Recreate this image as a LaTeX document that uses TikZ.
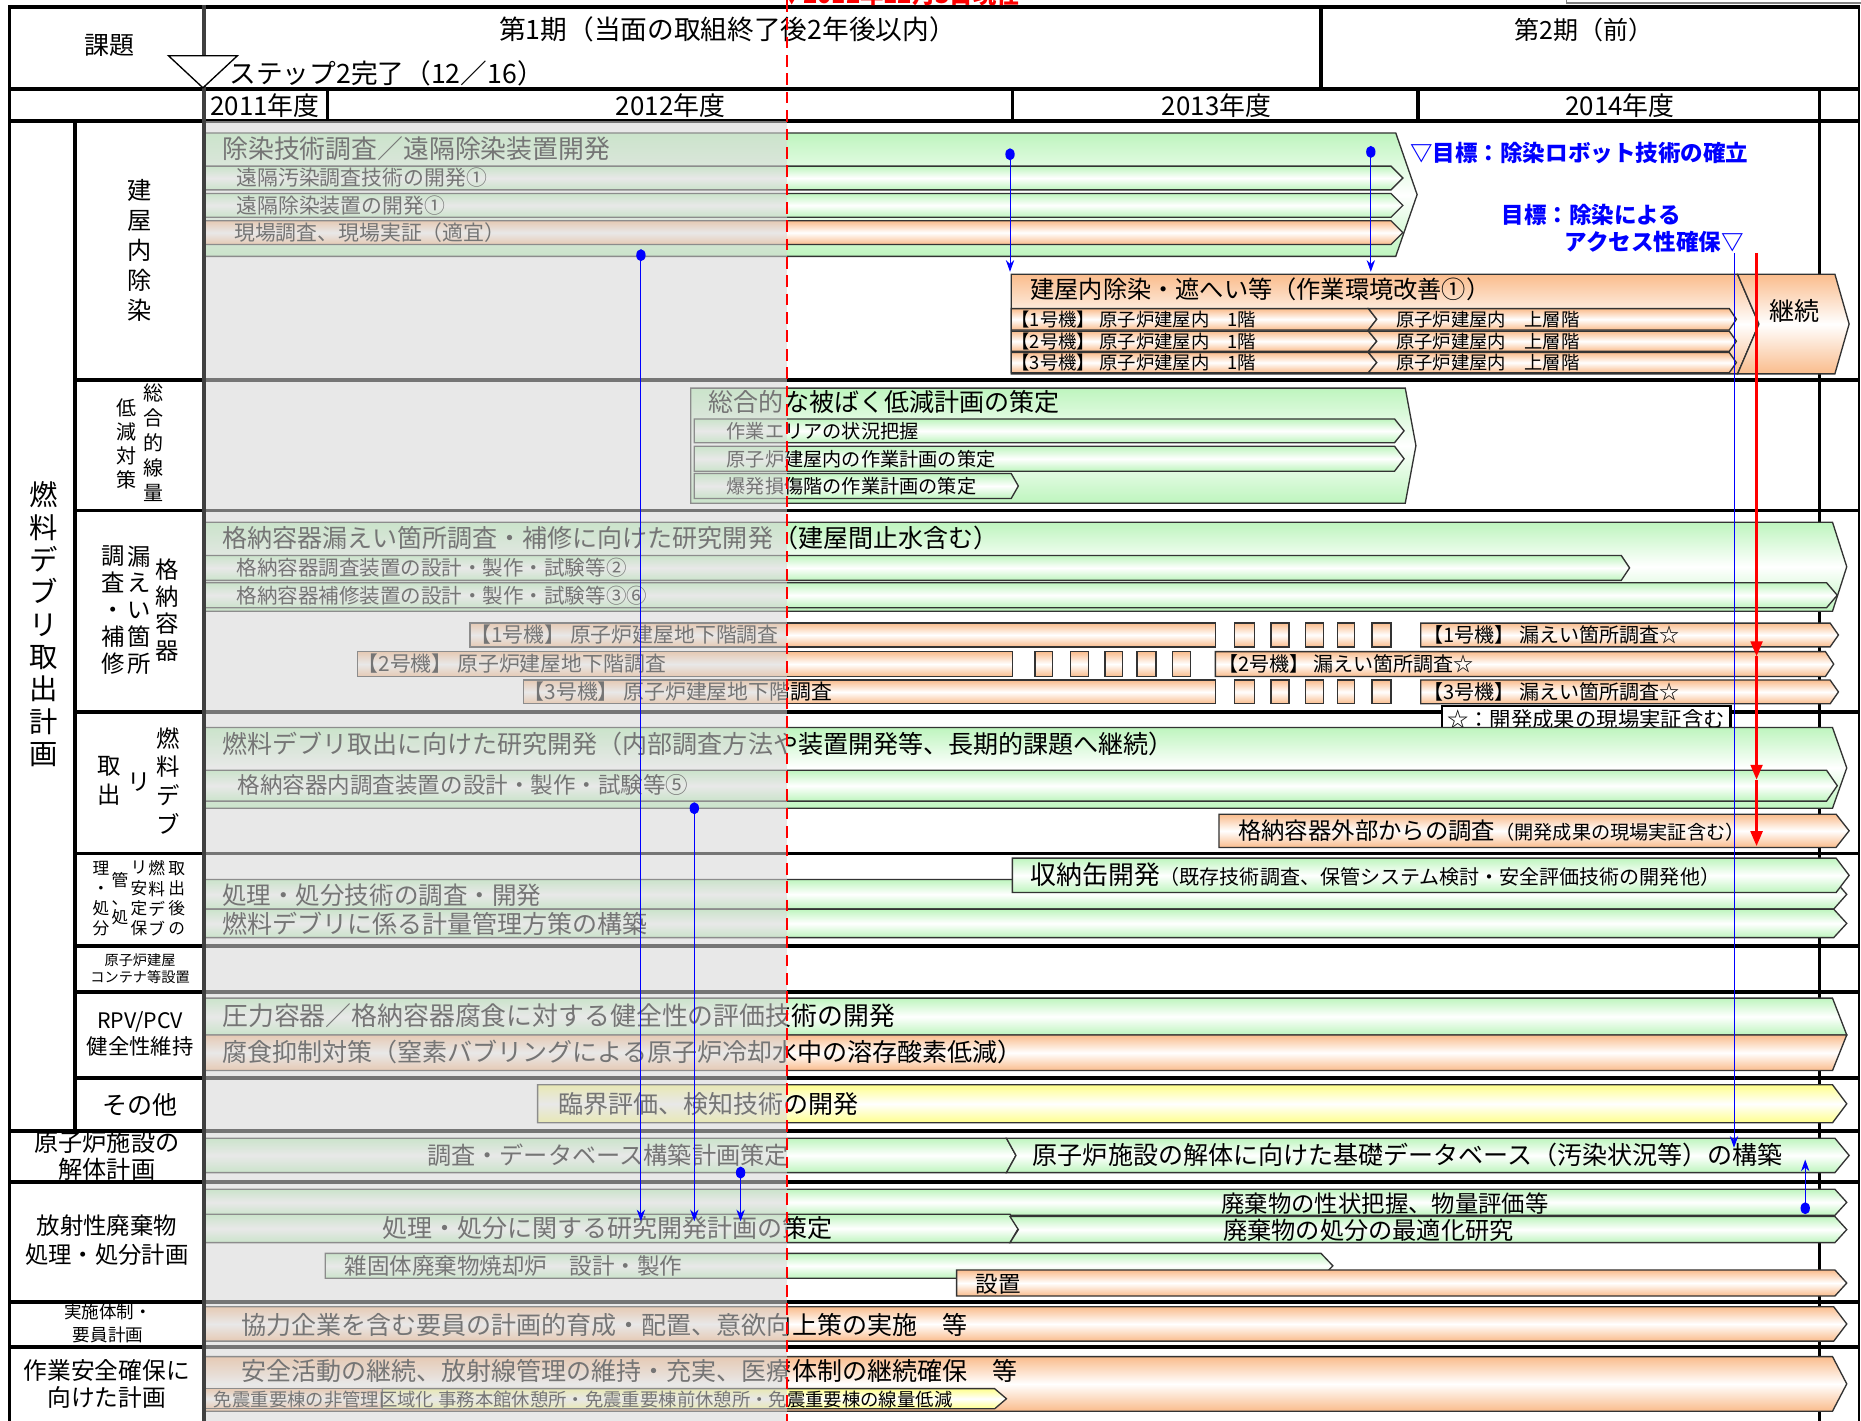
\documentclass[tikz,border=0pt]{standalone}
\usepackage{fontspec}
\setmainfont{Noto Sans CJK JP}
\usetikzlibrary{arrows.meta}

\definecolor{lgreen}{RGB}{190,245,190}
\definecolor{lorange}{RGB}{250,188,140}
\definecolor{lyellow}{RGB}{255,255,140}
\definecolor{gshade}{RGB}{214,214,214}

\newcommand{\fs}[1]{\fontsize{#1}{#1}\selectfont}
% 矢印形のバー: style, x左, y上, x先端, y下, 先端の深さ
\newcommand{\barshape}[6]{%
  \path[#1] (#2,#3) -- ({#4-#6},#3) -- (#4,{(#3+#5)/2}) -- ({#4-#6},#5) -- (#2,#5) -- cycle;}
% 左側に切り込みのあるバー
\newcommand{\barnotch}[7]{%
  \path[#1] (#2,#3) -- ({#4-#6},#3) -- (#4,{(#3+#5)/2}) -- ({#4-#6},#5) -- (#2,#5) -- ({#2+#7},{(#3+#5)/2}) -- cycle;}

\begin{document}
\begin{tikzpicture}[x=0.025cm, y=-0.025cm]
    % --- スタイル定義 ---
    \tikzstyle{thk}=[line width=2.2pt, line cap=rect]
    \tikzstyle{grn}=[draw=black!80, line width=0.8pt, top color=lgreen, bottom color=lgreen, middle color=white]
    \tikzstyle{org}=[draw=black!80, line width=0.8pt, top color=lorange, bottom color=lorange, middle color=white]
    \tikzstyle{yel}=[draw=black!80, line width=0.8pt, top color=lyellow, bottom color=lyellow, middle color=white]
    \tikzstyle{lbl}=[anchor=west, inner sep=0pt]
    \tikzstyle{vlbl}=[align=center, inner sep=0pt]
    \tikzstyle{goal}=[anchor=west, inner sep=0pt, text=blue, font=\bfseries\fs{13.5}]
    \tikzstyle{link}=[->, >={Stealth[length=7pt, width=5pt]}, blue, line width=0.6pt]
    \tikzstyle{hold}=[->, >={Triangle[length=9pt, width=7pt]}, red, line width=1.8pt]

    \useasboundingbox (0,0) rectangle (1568,1197);
    \fill[white] (0,0) rectangle (1568,1197);

    % ====== 枠線 ======
    \draw[thk] (8,6) -- (1566,6);
    \draw[thk] (8,75) -- (1566,75);
    \draw[thk] (8,102) -- (1566,102);
    \foreach \yy in {320,430,600,719,797,836,908} \draw[thk] (63,\yy) -- (1566,\yy);
    \foreach \yy in {953,996,1097,1135} \draw[thk] (8,\yy) -- (1566,\yy);
    \draw[thk] (8,6) -- (8,1197);
    \draw[thk] (63,102) -- (63,953);
    \draw[thk] (1113,6) -- (1113,75);
    \draw[thk] (276,75) -- (276,102);
    \draw[thk] (853,75) -- (853,102);
    \draw[thk] (1195,75) -- (1195,102);
    \draw[thk] (1533,75) -- (1533,1197);
    \draw[line width=1.2pt] (1566,6) -- (1566,1197);
    \draw[gray, line width=0.8pt] (1320,-10) rectangle (1580,2.5);

    % ====== 建屋内除染 ======
    \barshape{grn}{172}{112}{1194}{216}{18}
    \barshape{grn}{172}{140}{1182}{160}{10}
    \barshape{grn}{172}{163}{1182}{183}{10}
    \barshape{org}{172}{186}{1182}{206}{10}
    \node[lbl, font=\fs{15.5}] (t11) at (187,125) {除染技術調査／遠隔除染装置開発};
    \node[lbl, font=\fs{12.5}] (t12) at (199,150) {遠隔汚染調査技術の開発①};
    \node[lbl, font=\fs{12.5}] (t13) at (199,173) {遠隔除染装置の開発①};
    \node[lbl, font=\fs{12.5}] (t14) at (197,196) {現場調査、現場実証（適宜）};

    \barshape{org}{852}{231}{1482}{315}{18}
    \barnotch{org}{1464}{231}{1558}{315}{12}{18}
    \node[lbl, font=\fs{14.5}] (t15) at (868,244) {建屋内除染・遮へい等（作業環境改善①）};
    \node[font=\fs{15}] (t16) at (1512,262) {継続};
    \barshape{org}{852}{260}{1160}{278}{7}
    \barnotch{org}{1153}{260}{1463}{278}{6}{7}
    \barshape{org}{852}{279}{1160}{296}{7}
    \barnotch{org}{1153}{279}{1463}{296}{6}{7}
    \barshape{org}{852}{297}{1160}{314}{7}
    \barnotch{org}{1153}{297}{1463}{314}{6}{7}
    \node[lbl, font=\fs{11}] (u1) at (852,269) {【1号機】 原子炉建屋内　1階};
    \node[lbl, font=\fs{11}] (u2) at (852,287.5) {【2号機】 原子炉建屋内　1階};
    \node[lbl, font=\fs{11}] (u3) at (852,305.5) {【3号機】 原子炉建屋内　1階};
    \node[lbl, font=\fs{11}] (v1) at (1176,269) {原子炉建屋内　上層階};
    \node[lbl, font=\fs{11}] (v2) at (1176,287.5) {原子炉建屋内　上層階};
    \node[lbl, font=\fs{11}] (v3) at (1176,305.5) {原子炉建屋内　上層階};

    % ====== 総合的線量低減対策 ======
    \barshape{grn}{582}{327}{1193}{424}{9}
    \barshape{grn}{585}{353}{1183}{373}{8}
    \barshape{grn}{585}{376}{1183}{397}{8}
    \barshape{grn}{585}{399}{858}{420}{6}
    \node[lbl, font=\fs{15}] (t21) at (597,339) {総合的な被ばく低減計画の策定};
    \node[lbl, font=\fs{11.5}] (t22) at (612,363) {作業エリアの状況把握};
    \node[lbl, font=\fs{11.5}] (t23) at (612,386.5) {原子炉建屋内の作業計画の策定};
    \node[lbl, font=\fs{11.5}] (t24) at (612,409.5) {爆発損傷階の作業計画の策定};

    % ====== 格納容器漏えい箇所調査・補修 ======
    \barshape{grn}{172}{440}{1556}{515}{12}
    \barshape{grn}{172}{468}{1373}{489}{7}
    \barshape{grn}{172}{491}{1548}{512}{9}
    \node[lbl, font=\fs{15}] (t31) at (187,453) {格納容器漏えい箇所調査・補修に向けた研究開発（建屋間止水含む）};
    \node[lbl, font=\fs{12.3}] (t32) at (199,478.5) {格納容器調査装置の設計・製作・試験等②};
    \node[lbl, font=\fs{12.3}] (t33) at (199,501.5) {格納容器補修装置の設計・製作・試験等③⑥};

    \path[org] (396,525) rectangle (1024,545);
    \path[org] (301,549) rectangle (853,570);
    \path[org] (441,573) rectangle (1024,593);
    \foreach \xa/\xb in {1040/1057,1071/1086,1100/1115,1127/1141,1156/1172} {
        \path[org] (\xa,525) rectangle (\xb,545);
        \path[org] (\xa,573) rectangle (\xb,593);
    }
    \foreach \xa/\xb in {872/887,902/917,931/946,958/974,988/1003}
        \path[org] (\xa,549) rectangle (\xb,570);
    \barshape{org}{1197}{525}{1549}{545}{7}
    \barshape{org}{1024}{549}{1545}{570}{7}
    \barshape{org}{1197}{573}{1549}{593}{7}
    \node[lbl, font=\fs{12.5}] (r1) at (396,535) {【1号機】 原子炉建屋地下階調査};
    \node[lbl, font=\fs{12.5}] (r2) at (301,559.5) {【2号機】 原子炉建屋地下階調査};
    \node[lbl, font=\fs{12.5}] (r3) at (441,583) {【3号機】 原子炉建屋地下階調査};
    \node[lbl, font=\fs{12}] (s1) at (1199,535) {【1号機】 漏えい箇所調査☆};
    \node[lbl, font=\fs{12}] (s2) at (1026,559.5) {【2号機】 漏えい箇所調査☆};
    \node[lbl, font=\fs{12}] (s3) at (1199,583) {【3号機】 漏えい箇所調査☆};
    \draw[fill=white, line width=1.5pt] (1215,595) rectangle (1458,617);
    \node[lbl, font=\fs{12.8}] (star) at (1219,606) {☆：開発成果の現場実証含む};

    % ====== 燃料デブリ取出 ======
    \barshape{grn}{172}{613}{1556}{681}{12}
    \barshape{grn}{172}{649}{1548}{675}{9}
    \barshape{org}{1027}{686}{1558}{714}{11}
    \node[lbl, font=\fs{15}] (t41) at (187,627) {燃料デブリ取出に向けた研究開発（内部調査方法や装置開発等、長期的課題へ継続）};
    \node[lbl, font=\fs{13.5}] (t42) at (200,661) {格納容器内調査装置の設計・製作・試験等⑤};
    \node[lbl, font=\fs{14}] (t43) at (1043,700) {格納容器外部からの調査{\fs{11.5}（開発成果の現場実証含む）}};

    % ====== 取出後の燃料デブリ安定保管、処理・処分 ======
    \barshape{grn}{172}{741}{1556}{766}{11}
    \barshape{grn}{172}{766}{1556}{790}{11}
    \barshape{grn}{853}{723}{1558}{752}{11}
    \node[lbl, font=\fs{14.7}] (t51) at (187,754) {処理・処分技術の調査・開発};
    \node[lbl, font=\fs{15}] (t52) at (187,778) {燃料デブリに係る計量管理方策の構築};
    \node[lbl, font=\fs{15.5}] (t53) at (868,737) {収納缶開発{\fs{12}（既存技術調査、保管システム検討・安全評価技術の開発他）}};

    % ====== RPV/PCV健全性維持 ======
    \path[grn] (172,841) -- (1544,841) -- (1556,872) -- (172,872) -- cycle;
    \path[org] (172,872) -- (1556,872) -- (1544,902) -- (172,902) -- cycle;
    \node[lbl, font=\fs{15.5}] (t61) at (187,856) {圧力容器／格納容器腐食に対する健全性の評価技術の開発};
    \node[lbl, font=\fs{15}] (t62) at (187,886) {腐食抑制対策（窒素バブリングによる原子炉冷却水中の溶存酸素低減）};

    % ====== その他 ======
    \barshape{yel}{453}{914}{1556}{946}{12}
    \node[lbl, font=\fs{15}] (t71) at (470,930) {臨界評価、検知技術の開発};

    % ====== 原子炉施設の解体計画 ======
    \barshape{grn}{172}{959}{856}{988}{8}
    \barnotch{grn}{848}{959}{1558}{988}{12}{8}
    \node[anchor=east, inner sep=0pt, font=\fs{14.5}] (t81) at (665,973) {調査・データベース構築計画策定};
    \node[lbl, font=\fs{15}] (t82) at (870,973) {原子炉施設の解体に向けた基礎データベース（汚染状況等）の構築};

    % ====== 放射性廃棄物処理・処分計画 ======
    \barshape{grn}{172}{1002}{1556}{1024}{10}
    \barshape{grn}{172}{1023}{858}{1047}{7}
    \barnotch{grn}{851}{1025}{1556}{1047}{10}{7}
    \barshape{grn}{274}{1056}{1123}{1077}{10}
    \barshape{org}{806}{1070}{1556}{1092}{10}
    \node[inner sep=0pt, font=\fs{14}] (t91) at (1167,1014) {廃棄物の性状把握、物量評価等};
    \node[inner sep=0pt, font=\fs{15}] (t92) at (512,1035) {処理・処分に関する研究開発計画の策定};
    \node[inner sep=0pt, font=\fs{14.5}] (t93) at (1153,1037) {廃棄物の処分の最適化研究};
    \node[lbl, font=\fs{13.5}] (t94) at (290,1067) {雑固体廃棄物焼却炉　設計・製作};
    \node[lbl, font=\fs{13.5}] (t95) at (822,1082) {設置};

    % ====== 実施体制・要員計画 ======
    \barshape{org}{172}{1101}{1556}{1130}{11}
    \node[lbl, font=\fs{15}] (t101) at (203,1116) {協力企業を含む要員の計画的育成・配置、意欲向上策の実施　等};

    % ====== 作業安全確保に向けた計画 ======
    \barshape{org}{172}{1143}{1556}{1189}{12}
    \path[org] (172,1170) rectangle (322,1187);
    \barshape{yel}{322}{1170}{848}{1187}{10}
    \node[lbl, font=\fs{15}] (t111) at (203,1155) {安全活動の継続、放射線管理の維持・充実、医療体制の継続確保　等};
    \node[lbl, font=\fs{11}] (t112) at (180,1179) {免震重要棟の非管理区域化 事務本館休憩所・免震重要棟前休憩所・免震重要棟の線量低減};

    % ====== 実績部分 (網掛け) ======
    \fill[gshade, opacity=0.55] (172,102) rectangle (663,1197);
    \draw[thk, black!75] (172,6) -- (172,1197);

    % ====== 見出し ======
    \node[font=\fs{15}] (kadai) at (92,38) {課題};
    \node[font=\fs{16}] (ki1) at (613,25) {第1期（当面の取組終了後2年後以内）};
    \node[font=\fs{15}] (ki2) at (1335,25) {第2期（前）};
    \draw[fill=white, line width=0.8pt] (142,47) -- (200,47) -- (171,74) -- cycle;
    \node[lbl, font=\fs{16}] (step2) at (193,62) {ステップ2完了（12／16）};
    \node[lbl, font=\fs{15.5}] (y11) at (177,89) {2011年度};
    \node[font=\fs{15.5}] (y12) at (565,89) {2012年度};
    \node[font=\fs{15.5}] (y13) at (1025,89) {2013年度};
    \node[font=\fs{15.5}] (y14) at (1365,89) {2014年度};

    % ====== 左側の項目 ======
    \node[vlbl, font=\fontsize{17}{19.4}\selectfont] (c0) at (37,526) {燃\\料\\デ\\ブ\\リ\\取\\出\\計\\画};
    \node[vlbl, font=\fontsize{14.5}{18.1}\selectfont] (c1) at (118,211) {建\\屋\\内\\除\\染};
    \node[vlbl, font=\fontsize{12}{14.9}\selectfont] (c2a) at (129,373) {総\\合\\的\\線\\量};
    \node[vlbl, font=\fontsize{12}{14.4}\selectfont] (c2b) at (107,374) {低\\減\\対\\策};
    \node[vlbl, font=\fontsize{14}{16.1}\selectfont] (c3a) at (141,514) {格\\納\\容\\器};
    \node[vlbl, font=\fontsize{14}{16.1}\selectfont] (c3b) at (117,514) {漏\\え\\い\\箇\\所};
    \node[vlbl, font=\fontsize{14}{16.1}\selectfont] (c3c) at (95,514) {調\\査\\・\\補\\修};
    \node[vlbl, font=\fontsize{14}{17.3}\selectfont] (c4a) at (142,658) {燃\\料\\デ\\ブ};
    \node[vlbl, font=\fs{14}] (c4b) at (117,659) {リ};
    \node[vlbl, font=\fontsize{14}{17.3}\selectfont] (c4c) at (92,658) {取\\出};
    \node[vlbl, font=\fontsize{10}{12.1}\selectfont] (c5a) at (149,757) {取\\出\\後\\の};
    \node[vlbl, font=\fontsize{10}{12.1}\selectfont] (c5b) at (132,757) {燃\\料\\デ\\ブ};
    \node[vlbl, font=\fontsize{10}{12.1}\selectfont] (c5c) at (117,757) {リ\\安\\定\\保};
    \node[vlbl, font=\fontsize{10}{11}\selectfont] (c5d) at (101,757) {管\\、\\処};
    \node[vlbl, font=\fontsize{10}{12.1}\selectfont] (c5e) at (85,757) {理\\・\\処\\分};
    \node[vlbl, font=\fontsize{8.5}{10.5}\selectfont] (c6) at (118,816) {原子炉建屋\\コンテナ等設置};
    \node[vlbl, font=\fontsize{12.8}{15.5}\selectfont] (c7) at (118,871) {RPV/PCV\\健全性維持};
    \node[font=\fs{15}] (c8) at (118,931) {その他};
    \node[vlbl, font=\fontsize{14.5}{16.5}\selectfont] (c9) at (90,974) {原子炉施設の\\解体計画};
    \node[vlbl, font=\fontsize{14}{17.5}\selectfont] (c10) at (90,1045) {放射性廃棄物\\処理・処分計画};
    \node[vlbl, font=\fontsize{10.5}{14}\selectfont] (c11) at (91,1115) {実施体制・\\要員計画};
    \node[vlbl, font=\fontsize{14.2}{16}\selectfont] (c12) at (90,1166) {作業安全確保に\\向けた計画};

    % ====== 現在の位置 ======
    \draw[red, line width=1.6pt, dash pattern=on 7pt off 4pt] (663,0) -- (663,1197);
    \node[anchor=south west, inner sep=0pt, text=red, font=\bfseries\fs{14}] (now) at (657,5) {▼2012年12月3日現在};

    % ====== 目標 ======
    \node[goal] (g1) at (1188,129) {▽目標：除染ロボット技術の確立};
    \node[goal] (g2) at (1265,181) {目標：除染による};
    \node[goal] (g3) at (1318,204) {アクセス性確保▽};

    % ====== 青の矢印 (判断・反映) ======
    \coordinate (d1) at (851,130);  \coordinate (e1) at (851,229);
    \coordinate (d2) at (1155,128); \coordinate (e2) at (1155,229);
    \coordinate (d3) at (540,215);  \coordinate (e3) at (540,1029);
    \coordinate (d4) at (585,681);  \coordinate (e4) at (585,1029);
    \coordinate (d5) at (624,988);  \coordinate (e5) at (624,1029);
    \coordinate (d6) at (1521,1018); \coordinate (e6) at (1521,977);
    \coordinate (d7) at (1461,213); \coordinate (e7) at (1461,967);
    \foreach \p in {d1,d2,d3,d4,d5,d6}
        \fill[blue] (\p) ellipse (2.8pt and 3.6pt);
    \draw[link] (d1) -- (e1);
    \draw[link] (d2) -- (e2);
    \draw[link] (d3) -- (e3);
    \draw[link] (d4) -- (e4);
    \draw[link] (d5) -- (e5);
    \draw[link] (d6) -- (e6);
    \draw[link] (d7) -- (e7);

    % ====== 赤の矢印 ======
    \coordinate (h0) at (1480,213);
    \coordinate (h1) at (1480,553);
    \coordinate (h2) at (1480,657);
    \coordinate (h3) at (1480,713);
    \draw[hold] (h0) -- (h1);
    \draw[hold] (h1) -- (h2);
    \draw[hold] (h2) -- (h3);
\end{tikzpicture}
\end{document}
